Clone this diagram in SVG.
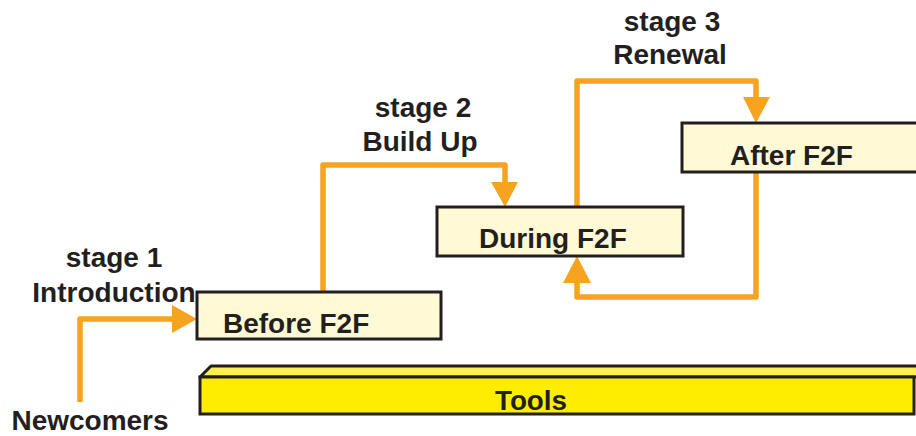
<svg xmlns="http://www.w3.org/2000/svg" width="916" height="436" viewBox="0 0 916 436">
  <style>
    .label { font-family: "Liberation Sans", Arial, sans-serif; font-weight: bold; font-size: 28px; fill: #231f20; }
    .box { fill: #fff9d5; stroke: #231f20; stroke-width: 3; }
    .flow { fill: none; stroke: #f6a31f; stroke-width: 5.5; stroke-linejoin: round; }
    .head { fill: #f6a31f; }
  </style>
  <rect width="916" height="436" fill="#ffffff"/>

  <!-- connectors -->
  <g id="connectors">
    <!-- newcomers into Before F2F -->
    <polyline class="flow" points="80,402 80,319 174,319"/>
    <polygon class="head" points="172,305 197,319 172,333"/>
    <!-- stage 2: Before F2F up to During F2F -->
    <polyline class="flow" points="323,292 323,165 505,165 505,184"/>
    <polygon class="head" points="491,182 518,182 505,207"/>
    <!-- stage 3: During F2F up to After F2F -->
    <polyline class="flow" points="577,207 577,81 756,81 756,99"/>
    <polygon class="head" points="743,97 770,97 756,123"/>
    <!-- After F2F back to During F2F -->
    <polyline class="flow" points="756,173 756,297 577,297 577,281"/>
    <polygon class="head" points="563,283 591,283 577,256"/>
  </g>

  <!-- stage labels -->
  <g id="stage1">
    <text class="label" x="114" y="267" text-anchor="middle">stage 1</text>
    <text class="label" x="114" y="302" text-anchor="middle">Introduction</text>
  </g>
  <g id="stage2">
    <text class="label" x="423" y="117" text-anchor="middle">stage 2</text>
    <text class="label" x="420" y="151" text-anchor="middle">Build Up</text>
  </g>
  <g id="stage3">
    <text class="label" x="672" y="31" text-anchor="middle">stage 3</text>
    <text class="label" x="670" y="64" text-anchor="middle">Renewal</text>
  </g>
  <g id="newcomers">
    <text class="label" x="90" y="430" text-anchor="middle">Newcomers</text>
  </g>

  <!-- phase boxes -->
  <g id="before-f2f">
    <rect class="box" x="197" y="292" width="244" height="47"/>
    <text class="label" x="223" y="333">Before F2F</text>
  </g>
  <g id="during-f2f">
    <rect class="box" x="437" y="207" width="246" height="49"/>
    <text class="label" x="479" y="248">During F2F</text>
  </g>
  <g id="after-f2f">
    <rect class="box" x="682" y="123" width="250" height="49"/>
    <text class="label" x="730" y="165">After F2F</text>
  </g>

  <!-- tools bar -->
  <g id="tools">
    <polygon points="200,377 211,366 925,366 925,377" fill="#fff04a" stroke="#231f20" stroke-width="3" stroke-linejoin="round"/>
    <rect x="200" y="377" width="714" height="37" fill="#ffed00" stroke="#231f20" stroke-width="3"/>
    <text class="label" x="531" y="410" text-anchor="middle" textLength="72" lengthAdjust="spacingAndGlyphs">Tools</text>
  </g>
</svg>
